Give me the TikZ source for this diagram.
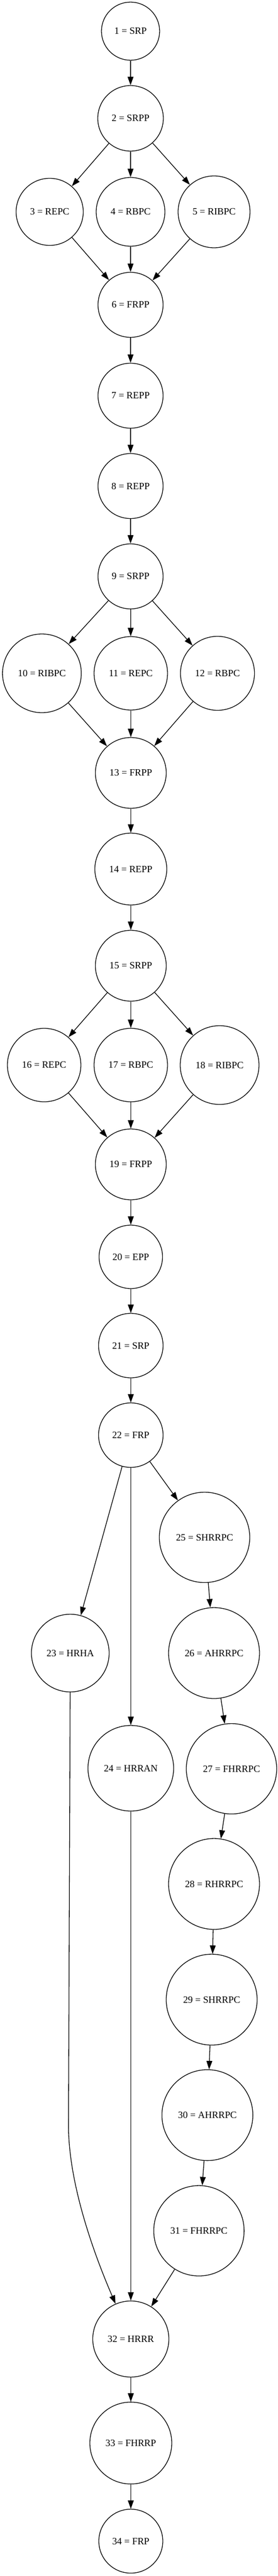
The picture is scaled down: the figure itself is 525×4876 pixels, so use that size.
\documentclass[tikz,border=0pt]{standalone}
\usepackage{fontspec}
\setmainfont{Liberation Serif}
\usetikzlibrary{arrows.meta}
\begin{document}
\begin{tikzpicture}[x=1pt,y=-1pt,
  st/.style={circle,draw,line width=1.3pt,inner sep=0pt,minimum size=#1,font=\fontsize{18.3}{20}\selectfont},
  edge/.style={line width=1.3pt,-{Triangle[length=16pt,width=11pt]}}]
\useasboundingbox (0,0) rectangle (525,4876);
\node[st=110pt] (n1) at (247,59) {1 = SRP};
\node[st=124pt] (n2) at (247,224) {2 = SRPP};
\node[st=127pt] (n3) at (94,401) {3 = REPC};
\node[st=130pt] (n4) at (247,401) {4 = RBPC};
\node[st=136pt] (n5) at (405,401) {5 = RIBPC};
\node[st=123pt] (n6) at (247,577) {6 = FRPP};
\node[st=123pt] (n7) at (247,749) {7 = REPP};
\node[st=123pt] (n8) at (247,920) {8 = REPP};
\node[st=123pt] (n9) at (247,1091) {9 = SRPP};
\node[st=149pt] (n10) at (79.3,1274.5) {10 = RIBPC};
\node[st=139pt] (n11) at (247.5,1274.5) {11 = REPC};
\node[st=140pt] (n12) at (411.5,1274.5) {12 = RBPC};
\node[st=134pt] (n13) at (247.5,1463) {13 = FRPP};
\node[st=136pt] (n14) at (247.5,1645) {14 = REPP};
\node[st=134pt] (n15) at (247.5,1828) {15 = SRPP};
\node[st=139pt] (n16) at (83.5,2016) {16 = REPC};
\node[st=139pt] (n17) at (247.5,2016) {17 = RBPC};
\node[st=149pt] (n18) at (415.5,2016) {18 = RIBPC};
\node[st=134pt] (n19) at (247.5,2204) {19 = FRPP};
\node[st=120pt] (n20) at (247.5,2379) {20 = EPP};
\node[st=122pt] (n21) at (247.5,2547) {21 = SRP};
\node[st=122pt] (n22) at (247.5,2716.5) {22 = FRP};
\node[st=147pt] (n23) at (133,3129) {23 = HRHA};
\node[st=162pt] (n24) at (247.5,3347) {24 = HRRAN};
\node[st=171pt] (n25) at (387,2910) {25 = SHRRPC};
\node[st=172pt] (n26) at (405,3129) {26 = AHRRPC};
\node[st=171pt] (n27) at (438,3348) {27 = FHRRPC};
\node[st=172pt] (n28) at (405,3566) {28 = RHRRPC};
\node[st=172pt] (n29) at (400.5,3785) {29 = SHRRPC};
\node[st=172pt] (n30) at (392.4,4003.6) {30 = AHRRPC};
\node[st=171pt] (n31) at (376.4,4222.5) {31 = FHRRPC};
\node[st=144pt] (n32) at (247.5,4427.4) {32 = HRRR};
\node[st=155pt] (n33) at (247.5,4624.3) {33 = FHRRP};
\node[st=121pt] (n34) at (247.5,4810) {34 = FRP};
\coordinate (c1) at (129.6,4023);
\draw[edge] (n1) -- (n2);
\draw[edge] (n2) -- (n3);
\draw[edge] (n2) -- (n4);
\draw[edge] (n2) -- (n5);
\draw[edge] (n3) -- (n6);
\draw[edge] (n4) -- (n6);
\draw[edge] (n5) -- (n6);
\draw[edge] (n6) -- (n7);
\draw[edge] (n7) -- (n8);
\draw[edge] (n8) -- (n9);
\draw[edge] (n9) -- (n10);
\draw[edge] (n9) -- (n11);
\draw[edge] (n9) -- (n12);
\draw[edge] (n10) -- (n13);
\draw[edge] (n11) -- (n13);
\draw[edge] (n12) -- (n13);
\draw[edge] (n13) -- (n14);
\draw[edge] (n14) -- (n15);
\draw[edge] (n15) -- (n16);
\draw[edge] (n15) -- (n17);
\draw[edge] (n15) -- (n18);
\draw[edge] (n16) -- (n19);
\draw[edge] (n17) -- (n19);
\draw[edge] (n18) -- (n19);
\draw[edge] (n19) -- (n20);
\draw[edge] (n20) -- (n21);
\draw[edge] (n21) -- (n22);
\draw[edge] (n22) -- (n23);
\draw[edge] (n22) -- (n24);
\draw[edge] (n22) -- (n25);
\draw[edge] (n25) -- (n26);
\draw[edge] (n26) -- (n27);
\draw[edge] (n27) -- (n28);
\draw[edge] (n28) -- (n29);
\draw[edge] (n29) -- (n30);
\draw[edge] (n30) -- (n31);
\draw[edge] (n23) -- (c1) .. controls (129.6,4130) and (175,4260) .. (n32);
\draw[edge] (n24) -- (n32);
\draw[edge] (n31) -- (n32);
\draw[edge] (n32) -- (n33);
\draw[edge] (n33) -- (n34);
\end{tikzpicture}
\end{document}
